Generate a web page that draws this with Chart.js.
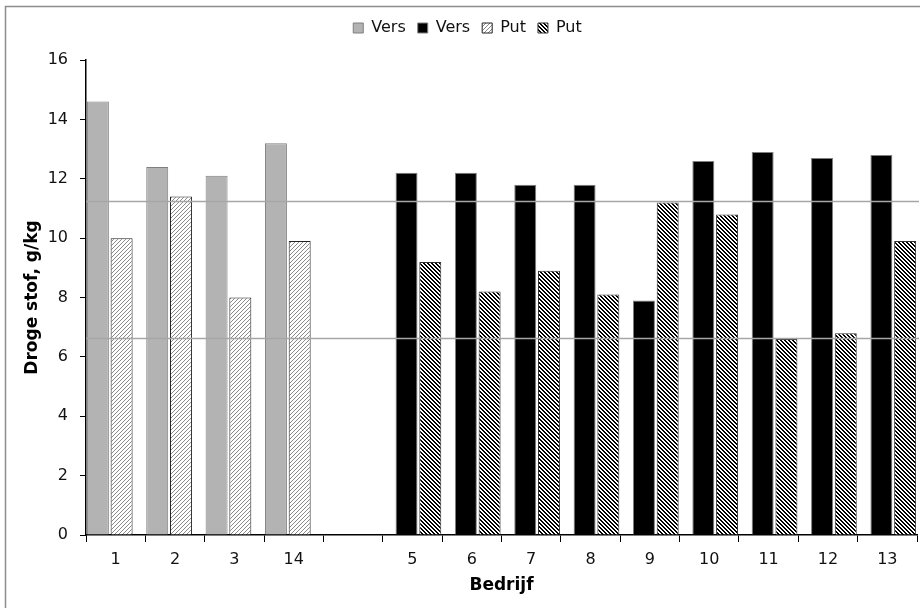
<!DOCTYPE html>
<html>
<head>
<meta charset="utf-8">
<script src="https://cdn.jsdelivr.net/npm/chart.js@4/dist/chart.umd.min.js"></script>
<style>
  html, body { margin: 0; padding: 0; background: #fff; }
  #wrap { width: 920px; height: 608px; }
</style>
</head>
<body>
<div id="wrap"><canvas id="chart" width="920" height="608"></canvas></div>
<script>
// Data
const categories = ['1', '2', '3', '14', '', '5', '6', '7', '8', '9', '10', '11', '12', '13'];
const versGrey  = [14.6, 12.4, 12.1, 13.2, null, null, null, null, null, null, null, null, null, null];
const versBlack = [null, null, null, null, null, 12.2, 12.2, 11.8, 11.8, 7.9, 12.6, 12.9, 12.7, 12.8];
const putLight  = [10.0, 11.4, 8.0, 9.9, null, null, null, null, null, null, null, null, null, null];
const putDark   = [null, null, null, null, null, 9.2, 8.2, 8.9, 8.1, 11.2, 10.8, 6.6, 6.8, 9.9];
const refLines  = [11.25, 6.65];
const yTicks    = [0, 2, 4, 6, 8, 10, 12, 14, 16];

// hatch fills
function hatch(size, dir, color, thick) {
  const c = document.createElement('canvas');
  c.width = size; c.height = size;
  const g = c.getContext('2d');
  g.fillStyle = '#fff';
  g.fillRect(0, 0, size, size);
  g.fillStyle = color;
  for (let y = 0; y < size; y++) {
    for (let x = 0; x < size; x++) {
      const k = dir === '/' ? (x + y) % size : ((x - y) % size + size) % size;
      if (k < thick) g.fillRect(x, y, 1, 1);
    }
  }
  return g.createPattern(c, 'repeat');
}
const ctx = document.getElementById('chart').getContext('2d');
const lightHatch = hatch(4, '/', '#8a8a8a', 1);
const darkHatch = hatch(4, '\\', '#000', 2);

const refLinePlugin = {
  id: 'refLines',
  afterInit(chart) {
    // extra room under the legend row
    const fit = chart.legend.fit;
    chart.legend.fit = function () {
      fit.call(this);
      this.height += 14;
    };
  },
  afterDatasetsDraw(chart) {
    const { ctx, chartArea, scales } = chart;
    ctx.save();
    ctx.strokeStyle = '#a6a6a6';
    ctx.lineWidth = 1.5;
    refLines.forEach(v => {
      const y = Math.round(scales.y.getPixelForValue(v)) + 0.5;
      ctx.beginPath();
      ctx.moveTo(chartArea.left, y);
      ctx.lineTo(chartArea.right + 2, y);
      ctx.stroke();
    });
    ctx.restore();
  },
  afterDraw(chart) {
    const c = chart.ctx;
    c.save();
    c.strokeStyle = '#8c8c8c';
    c.lineWidth = 1.5;
    c.strokeRect(5.5, 6.5, 940, 640);
    c.restore();
  }
};

Chart.defaults.font.family = "'DejaVu Sans', Verdana, sans-serif";
Chart.defaults.font.size = 16;
Chart.defaults.color = '#111';

new Chart(ctx, {
  type: 'bar',
  data: {
    labels: categories,
    datasets: [
      { label: 'Vers', data: versGrey, backgroundColor: '#b3b3b3', borderColor: '#7f7f7f', borderWidth: 1 },
      { label: 'Vers', data: versBlack, backgroundColor: '#000', borderColor: '#7f7f7f', borderWidth: 1 },
      { label: 'Put', data: putLight, backgroundColor: lightHatch, borderColor: '#222', borderWidth: 1 },
      { label: 'Put', data: putDark, backgroundColor: darkHatch, borderColor: '#333', borderWidth: 1 }
    ]
  },
  options: {
    responsive: false,
    animation: false,
    categoryPercentage: 0.8,
    barPercentage: 1.85,
    layout: { padding: { top: 8, right: 3, left: 18, bottom: 8 } },
    plugins: {
      legend: {
        position: 'top',
        labels: { boxWidth: 10, boxHeight: 10, padding: 12, font: { size: 16 }, color: '#111' }
      },
      tooltip: { enabled: false }
    },
    scales: {
      x: {
        grid: { drawOnChartArea: false, drawTicks: true, tickLength: 7, color: '#000', offset: true },
        border: { color: '#000', width: 1.5 },
        ticks: { padding: 8, maxRotation: 0, autoSkip: false },
        title: { display: true, text: 'Bedrijf', font: { size: 17, weight: 'bold' }, color: '#000', padding: { top: 2 } },
        afterFit(s) { s.height = 65; }
      },
      y: {
        min: 0, max: 16,
        afterBuildTicks(s) { s.ticks = yTicks.map(v => ({ value: v })); },
        grid: { drawOnChartArea: false, drawTicks: true, tickLength: 6, color: '#000' },
        border: { color: '#000', width: 1.5 },
        ticks: { padding: 12 },
        title: { display: true, text: 'Droge stof, g/kg', font: { size: 17, weight: 'bold' }, color: '#000', padding: { bottom: 4 } },
        afterFit(s) { s.width = 68; }
      }
    }
  },
  plugins: [refLinePlugin]
});
</script>
</body>
</html>
